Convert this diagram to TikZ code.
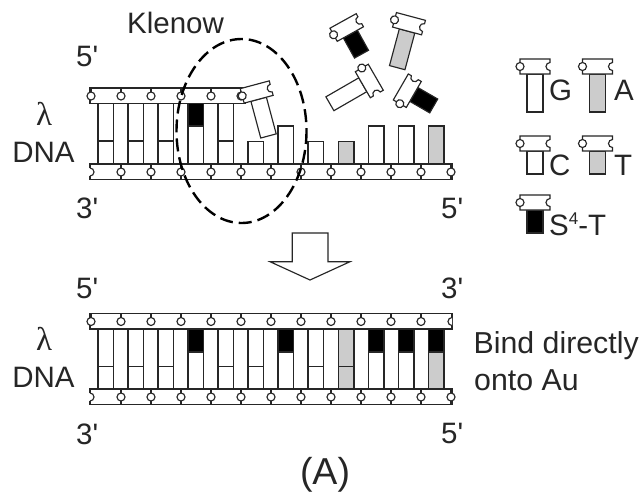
\documentclass[tikz,border=0pt]{standalone}
\usepackage{fontspec}
\setmainfont{Liberation Sans}
\newfontfamily\labfont{Liberation Sans}
\newfontfamily\lamfont{Liberation Serif}
\definecolor{basegrey}{gray}{0.8}
\definecolor{inkline}{gray}{0.15}
\newcommand{\nucleo}[5]{% x,y,rot,stem length,fill
  \begin{scope}[shift={(#1,#2)},rotate=#3]
    \draw[part,fill=#5] (-8,7.5) rectangle (8,7.5+#4);
    \draw[part,fill=white] (-15,-7.5) -- (15,-7.5) -- (15,-4) arc[start angle=90,end angle=270,radius=4pt] -- (15,7.5) -- (-15,7.5) -- cycle;
    \draw[part,fill=white] (-15,0) circle[radius=4pt];
  \end{scope}}
\newcommand{\topstrand}[3]{% x-end,y-top,last circle x
  \draw[part,fill=white] (90,#2) rectangle (#1,#2+15.5);
  \foreach \cx in {91,121,...,#3}{
    \draw[part] (\cx,#2) -- (\cx,#2+8);
    \draw[part,fill=white] (\cx,#2+8) circle[radius=4pt];}}
\newcommand{\botstrand}[2]{% y-top,last circle x
  \draw[part,fill=white] (90,#1) rectangle (452,#1+15.5);
  \fill[white] (88,#1+4) rectangle (90.6,#1+12);
  \draw[part,fill=white] (90,#1+4) arc[start angle=90,end angle=-90,radius=4pt];
  \foreach \cx in {121,151,...,#2}{
    \draw[part] (\cx,#1) -- (\cx,#1+15.5);
    \draw[part,fill=white] (\cx,#1+8) circle[radius=4pt];}}
\newcommand{\basebar}[5]{% x, top, bottom, fill, unused
  \draw[part,fill=#4] (#1,#2) rectangle (#1+15.5,#3);}
\tikzset{
  part/.style={draw=inkline,line width=1.15pt},
  lab/.style={inner sep=0pt,text=inkline,font=\labfont\fontsize{29.5}{29.5}\selectfont},
  bindlab/.style={inner sep=0pt,text=inkline,font=\labfont\fontsize{30.3}{30.3}\selectfont},
  lamlab/.style={inner sep=0pt,text=inkline,font=\lamfont\fontsize{33}{33}\selectfont},
}
\begin{document}
\begin{tikzpicture}[x=1pt,y=-1pt]
\useasboundingbox (0,0) rectangle (644,491);
\fill[white] (0,0) rectangle (644,491);
% upper duplex: paired bases
\foreach \bx in {98,128,158,218}{
  \draw[part] (\bx,103) rectangle (\bx+15.5,164);
  \draw[part] (\bx,141) -- (\bx+15.5,141);}
\draw[part] (188,103) rectangle (203.5,164);
\draw[part,fill=black] (188,103) rectangle (203.5,126);
% upper duplex: growing strand stubs
\basebar{248}{141.5}{164}{white}{}
\basebar{278}{126}{164}{white}{}
\basebar{308}{141.5}{164}{white}{}
\basebar{338.5}{141.5}{164}{basegrey}{}
\basebar{368.5}{126}{164}{white}{}
\basebar{398.5}{126}{164}{white}{}
\basebar{428.5}{126}{164}{basegrey}{}
\topstrand{245}{88}{241}
\botstrand{164}{451}
% free nucleotides
\nucleo{346.7}{27.5}{29}{23}{black}
\nucleo{409}{23.7}{-15}{38}{basegrey}
\nucleo{369.3}{81}{-60}{38}{white}
\nucleo{407.3}{90.7}{60}{23}{black}
\nucleo{256.7}{92}{15}{38}{white}
% legend
\nucleo{535}{66.5}{0}{38}{white}
\nucleo{597.5}{66.5}{0}{38}{basegrey}
\nucleo{535}{143.5}{0}{23}{white}
\nucleo{597.5}{143.5}{0}{23}{basegrey}
\nucleo{535}{202.5}{0}{23}{black}
% lower duplex
\foreach \bx in {98,128,158,218,248,308}{
  \draw[part] (\bx,329) rectangle (\bx+15.5,389);
  \draw[part] (\bx,366.5) -- (\bx+15.5,366.5);}
\foreach \bx in {188,278,368.5,398.5}{
  \draw[part] (\bx,329) rectangle (\bx+15.5,389);
  \draw[part,fill=black] (\bx,329) rectangle (\bx+15.5,352);}
\draw[part,fill=basegrey] (338.5,329) rectangle (354,389);
\draw[part] (338.5,366.5) -- (354,366.5);
\draw[part,fill=basegrey] (428.5,329) rectangle (444,389);
\draw[part,fill=black] (428.5,329) rectangle (444,352);
\topstrand{452}{313.5}{421}
\draw[part,fill=white] (452,317.5) arc[start angle=90,end angle=270,radius=4pt];
\botstrand{389}{451}
% Klenow ellipse
\draw[black,line width=2.4pt,dash pattern=on 13pt off 6pt] (241.5,131) ellipse[x radius=65,y radius=92];
% process arrow
\draw[part,fill=white] (292.3,233) -- (328,233) -- (328,261.7) -- (350,261.7) -- (310,280) -- (270,261.7) -- (292.3,261.7) -- cycle;
% labels
\node[lab,anchor=base west] (klenow) at (127,33) {Klenow};
\node[lab,anchor=base west] (p5a) at (76,66.5) {5'};
\node[lamlab,anchor=base] (lam1) at (44,125) {λ};
\node[lab,anchor=base] (dna1) at (43.5,162.7) {DNA};
\node[lab,anchor=base west] (p3a) at (76,218) {3'};
\node[lab,anchor=base west] (p5b) at (441,218) {5'};
\node[lab,anchor=base west] (lg) at (549,100.7) {G};
\node[lab,anchor=base west] (la) at (614,100.7) {A};
\node[lab,anchor=base west] (lc) at (549,175) {C};
\node[lab,anchor=base west] (lt) at (614,175) {T};
\node[lab,anchor=base west] (ls) at (549,235) {S\raisebox{11pt}{\fontsize{17}{17}\selectfont 4}-T};
\node[lab,anchor=base west] (p5c) at (76,298) {5'};
\node[lab,anchor=base west] (p3b) at (441,298) {3'};
\node[lamlab,anchor=base] (lam2) at (44,350) {λ};
\node[lab,anchor=base] (dna2) at (43.5,387) {DNA};
\node[bindlab,anchor=base west] (bind1) at (473.5,353) {Bind directly};
\node[bindlab,anchor=base west] (bind2) at (474,390.7) {onto Au};
\node[lab,anchor=base west] (p3c) at (76,444) {3'};
\node[lab,anchor=base west] (p5d) at (441,443) {5'};
\node[anchor=base,inner sep=0pt,text=inkline,font=\labfont\fontsize{37.5}{37.5}\selectfont] (cap) at (325,484) {(A)};
\end{tikzpicture}
\end{document}
